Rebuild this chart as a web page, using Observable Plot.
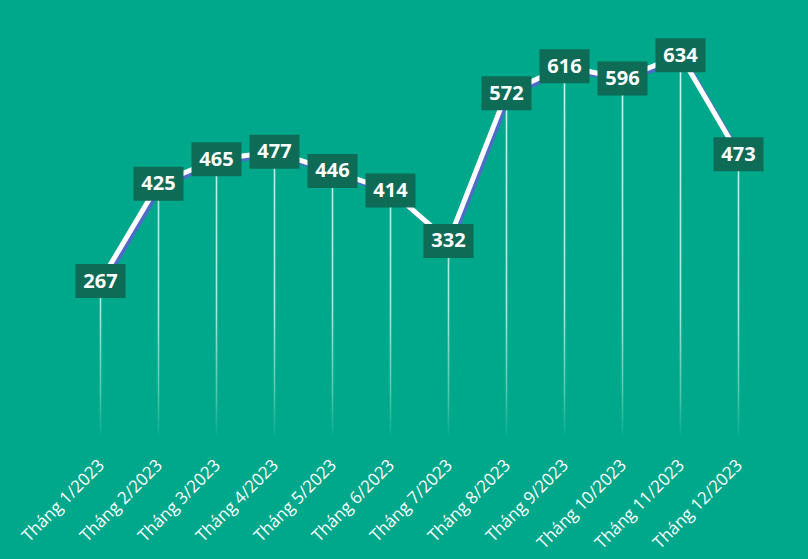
<!DOCTYPE html>
<html>
<head>
<meta charset="utf-8">
<script src="https://cdn.jsdelivr.net/npm/d3@7"></script>
<script src="https://cdn.jsdelivr.net/npm/@observablehq/plot@0.6"></script>
<style>
  html, body { margin: 0; padding: 0; background: #00A88B; }
  #chart { width: 808px; height: 559px; overflow: hidden; }
</style>
</head>
<body>
<div id="chart"></div>
<script>
const months = ["Tháng 1/2023", "Tháng 2/2023", "Tháng 3/2023", "Tháng 4/2023", "Tháng 5/2023", "Tháng 6/2023",
                "Tháng 7/2023", "Tháng 8/2023", "Tháng 9/2023", "Tháng 10/2023", "Tháng 11/2023", "Tháng 12/2023"];
const values = [267, 425, 465, 477, 446, 414, 332, 572, 616, 596, 634, 473];

const data = months.map((m, i) => ({month: m, value: values[i]}));

const boxSymbol = {
  draw(context) {
    context.rect(-25, -17, 50, 34);
  }
};

const chart = Plot.plot({
  width: 808,
  height: 559,
  marginLeft: 99,
  marginRight: 69,
  marginTop: 14,
  marginBottom: 114,
  style: {background: "#00A88B", fontFamily: "'Open Sans', sans-serif", overflow: "visible"},
  x: {type: "point", domain: months, padding: 0, axis: null},
  y: {domain: [0, 700], axis: null},
  marks: [
    Plot.ruleX(data, {x: "month", y1: 14, y2: "value", stroke: "url(#dropGrad)", strokeWidth: 1.6}),
    Plot.line(data, {x: "month", y: "value", stroke: "#4F6BC9", strokeWidth: 5, dx: 2.5, dy: 2.5, curve: "linear"}),
    Plot.line(data, {x: "month", y: "value", stroke: "white", strokeWidth: 5, curve: "linear"}),
    Plot.dot(data, {x: "month", y: "value", symbol: boxSymbol, fill: "#0E6B56", r: 10}),
    Plot.text(data, {x: "month", y: "value", text: d => String(d.value), fill: "white",
      fontSize: 20, fontWeight: "bold", fontFamily: "'Open Sans', sans-serif"}),
    Plot.text(months, {x: d => d, y: 0, text: d => d, rotate: -45, textAnchor: "end", lineAnchor: "middle",
      dx: 1, dy: 17, fill: "white", fontSize: 17, fontFamily: "'Open Sans', sans-serif"})
  ]
});

const ns = "http://www.w3.org/2000/svg";
const defs = document.createElementNS(ns, "defs");
const grad = document.createElementNS(ns, "linearGradient");
grad.setAttribute("id", "dropGrad");
grad.setAttribute("gradientUnits", "userSpaceOnUse");
grad.setAttribute("x1", "0"); grad.setAttribute("x2", "0");
grad.setAttribute("y1", "440"); grad.setAttribute("y2", "60");
[[0, 0], [0.12, 0.35], [0.35, 0.75], [1, 0.9]].forEach(([o, a]) => {
  const s = document.createElementNS(ns, "stop");
  s.setAttribute("offset", o);
  s.setAttribute("stop-color", "#e0fff6");
  s.setAttribute("stop-opacity", a);
  grad.appendChild(s);
});
defs.appendChild(grad);
chart.insertBefore(defs, chart.firstChild);

document.getElementById("chart").appendChild(chart);
</script>
</body>
</html>
